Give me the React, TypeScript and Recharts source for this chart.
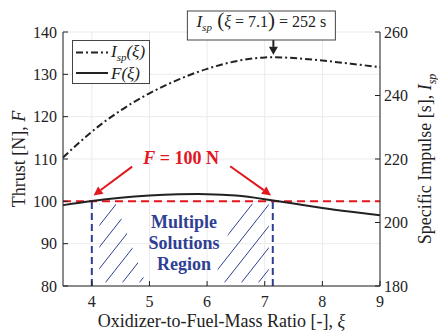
import {
  CartesianGrid,
  Legend,
  Line,
  LineChart,
  ReferenceArea,
  ReferenceDot,
  ReferenceLine,
  XAxis,
  YAxis,
} from 'recharts';

const ratio = [3.5, 4, 4.5, 5, 5.5, 6, 6.5, 7, 7.5, 8, 8.5, 9];
const thrust = [99.1, 100.1, 100.85, 101.35, 101.65, 101.7, 101.35, 100.5, 99.5, 98.45, 97.55, 96.7];
const isp = [220.5, 228.6, 235.3, 240.7, 245.0, 248.4, 250.8, 252.0, 251.8, 251.0, 250.0, 248.9];

const xTicks = [4, 5, 6, 7, 8, 9];
const thrustTicks = [80, 90, 100, 110, 120, 130, 140];
const ispTicks = [180, 200, 220, 240, 260];

const data = ratio.map((x, i) => ({ x, thrust: thrust[i], isp: isp[i] }));

const FONT = "'Liberation Serif', 'DejaVu Serif', serif";
const INK = '#222';
const RED = '#e3161f';
const BLUE = '#2f3f93';

function LeftTick({ x, y, payload }: any) {
  return (
    <g>
      <text x={x} y={y} dy={5.5} textAnchor="end" fontSize={16} fill={INK} style={{ fontFamily: FONT }}>
        {payload.value}
      </text>
      <line x1={x + 6} x2={x + 11} y1={y} y2={y} stroke={INK} />
    </g>
  );
}

function RightTick({ x, y, payload }: any) {
  return (
    <g>
      <text x={x} y={y} dy={5.5} textAnchor="start" fontSize={16} fill={INK} style={{ fontFamily: FONT }}>
        {payload.value}
      </text>
      <line x1={x - 4} x2={x - 9} y1={y} y2={y} stroke={INK} />
    </g>
  );
}

function BottomTick({ x, y, payload }: any) {
  return (
    <g>
      <text x={x} y={y} dy={12} textAnchor="middle" fontSize={16} fill={INK} style={{ fontFamily: FONT }}>
        {payload.value}
      </text>
      <line x1={x} x2={x} y1={y - 9} y2={y - 14} stroke={INK} />
    </g>
  );
}

// line with a filled arrowhead at the (x2, y2) end
function arrow(color: string, w: number, len: number, half: number) {
  return (p: any) => {
    const { x1, y1, x2, y2 } = p;
    const a = Math.atan2(y2 - y1, x2 - x1);
    const bx = x2 - len * Math.cos(a);
    const by = y2 - len * Math.sin(a);
    const nx = -Math.sin(a) * half;
    const ny = Math.cos(a) * half;
    return (
      <g>
        <line x1={x1} y1={y1} x2={bx} y2={by} stroke={color} strokeWidth={w} />
        <polygon points={`${x2},${y2} ${bx + nx},${by + ny} ${bx - nx},${by - ny}`} fill={color} />
      </g>
    );
  };
}

// diagonal hatching clipped to a slanted region of the area rect
function hatch(id: string, side: 'left' | 'right') {
  return (p: any) => {
    const { x, y, width: w, height: h } = p;
    const poly =
      side === 'left'
        ? [[x, y], [x + 0.36 * w, y], [x + w, y + h], [x, y + h]]
        : [[x + 0.42 * w, y], [x + w, y], [x + w, y + h], [x, y + h]];
    const slope = 1.27;
    const step = 17;
    const lines = [];
    for (let k = -8; k <= 8; k++) {
      const bx = x + w / 2 + k * step;
      lines.push(
        <line key={k} x1={bx} y1={y + h} x2={bx + h / slope} y2={y} stroke={BLUE} strokeWidth={1} />,
      );
    }
    return (
      <g>
        <defs>
          <clipPath id={id}>
            <polygon points={poly.map((q) => q.join(',')).join(' ')} />
          </clipPath>
        </defs>
        <g clipPath={`url(#${id})`}>{lines}</g>
      </g>
    );
  };
}

function LegendBox() {
  return (
    <svg width={78} height={44} style={{ display: 'block', fontFamily: FONT }}>
      <rect x={0.5} y={0.5} width={77} height={43} fill="#fff" stroke="#444" />
      <line x1={4} x2={36} y1={12.5} y2={12.5} stroke={INK} strokeWidth={2} strokeDasharray="7 3 2 3" />
      <text x={39} y={17} fontSize={17} fontStyle="italic" fill={INK}>
        I<tspan fontSize={11} dy={4}>sp</tspan>
        <tspan dy={-4}>(ξ)</tspan>
      </text>
      <line x1={4} x2={36} y1={33} y2={33} stroke={INK} strokeWidth={2} />
      <text x={39} y={38.5} fontSize={17} fontStyle="italic" fill={INK}>
        F(ξ)
      </text>
    </svg>
  );
}

export default function App() {
  return (
    <div style={{ position: 'absolute', left: 0, top: 0, fontFamily: FONT }}>
      <LineChart
        width={438}
        height={332}
        data={data}
        margin={{ top: 32, right: 0, bottom: 0, left: 0 }}
        style={{ fontFamily: FONT }}
      >
        <CartesianGrid stroke="#ebebeb" yAxisId="l" />
        <XAxis
          dataKey="x"
          type="number"
          domain={[3.5, 9]}
          ticks={xTicks}
          allowDataOverflow
          height={46}
          tickSize={0}
          tickMargin={9}
          stroke={INK}
          tick={<BottomTick />}
          label={{
            content: ({ viewBox }: any) => (
              <text
                x={(viewBox?.x ?? 63) + (viewBox?.width ?? 317) / 2}
                y={327}
                textAnchor="middle"
                fontSize={18}
                fill={INK}
                style={{ fontFamily: FONT }}
              >
                Oxidizer-to-Fuel-Mass Ratio [-], <tspan fontStyle="italic">ξ</tspan>
              </text>
            ),
          }}
        />
        <YAxis
          yAxisId="l"
          domain={[80, 140]}
          ticks={thrustTicks}
          width={63}
          tickSize={0}
          tickMargin={6}
          stroke={INK}
          tick={<LeftTick />}
          label={{
            content: ({ viewBox }: any) => {
              const cy = (viewBox?.y ?? 32) + (viewBox?.height ?? 254) / 2;
              return (
                <text
                  transform={`translate(25, ${cy}) rotate(-90)`}
                  textAnchor="middle"
                  fontSize={18}
                  fill={INK}
                  style={{ fontFamily: FONT }}
                >
                  Thrust [N],  <tspan fontStyle="italic">F</tspan>
                </text>
              );
            },
          }}
        />
        <YAxis
          yAxisId="r"
          orientation="right"
          domain={[180, 260]}
          ticks={ispTicks}
          width={58}
          tickSize={0}
          tickMargin={4}
          stroke={INK}
          tick={<RightTick />}
          label={{
            content: ({ viewBox }: any) => {
              const cy = (viewBox?.y ?? 32) + (viewBox?.height ?? 254) / 2;
              return (
                <text
                  transform={`translate(431, ${cy}) rotate(-90)`}
                  textAnchor="middle"
                  fontSize={18}
                  fill={INK}
                  style={{ fontFamily: FONT }}
                >
                  Specific Impulse [s],  <tspan fontStyle="italic">I</tspan>
                  <tspan fontStyle="italic" fontSize={12} dy={5}>sp</tspan>
                </text>
              );
            },
          }}
        />

        <ReferenceArea yAxisId="l" x1={4.13} x2={4.93} y1={80.8} y2={99.4} shape={hatch('hatchL', 'left')} />
        <ReferenceArea yAxisId="l" x1={6.12} x2={7.07} y1={80.8} y2={99.4} shape={hatch('hatchR', 'right')} />

        <ReferenceLine yAxisId="l" y={100} stroke={RED} strokeWidth={2} strokeDasharray="8 5" />
        <ReferenceLine
          yAxisId="l"
          segment={[{ x: 4, y: 80 }, { x: 4, y: 100 }]}
          stroke={BLUE}
          strokeWidth={2}
          strokeDasharray="7 4"
        />
        <ReferenceLine
          yAxisId="l"
          segment={[{ x: 7.14, y: 80 }, { x: 7.14, y: 100 }]}
          stroke={BLUE}
          strokeWidth={2}
          strokeDasharray="7 4"
        />

        <Line
          yAxisId="r"
          type="natural"
          dataKey="isp"
          stroke={INK}
          strokeWidth={2}
          strokeDasharray="7 3 2 3"
          dot={false}
          isAnimationActive={false}
        />
        <Line
          yAxisId="l"
          type="natural"
          dataKey="thrust"
          stroke={INK}
          strokeWidth={2}
          dot={false}
          isAnimationActive={false}
        />

        <ReferenceLine
          yAxisId="l"
          segment={[{ x: 4.7, y: 108.2 }, { x: 4.03, y: 101.4 }]}
          shape={arrow(RED, 2, 9, 4.5)}
        />
        <ReferenceLine
          yAxisId="l"
          segment={[{ x: 6.4, y: 108.3 }, { x: 7.11, y: 101.4 }]}
          shape={arrow(RED, 2, 9, 4.5)}
        />
        <ReferenceLine
          yAxisId="r"
          segment={[{ x: 7.15, y: 257.5 }, { x: 7.15, y: 252.8 }]}
          shape={arrow(INK, 2, 8, 4.5)}
        />

        <ReferenceDot
          yAxisId="l"
          x={5.55}
          y={108.8}
          r={0}
          shape={(p: any) => (
            <text x={p.cx} y={p.cy} textAnchor="middle" fontSize={18} fontWeight="bold" fill={RED} style={{ fontFamily: FONT }}>
              <tspan fontStyle="italic">F</tspan> = 100 N
            </text>
          )}
        />
        <ReferenceDot
          yAxisId="l"
          x={5.6}
          y={93.8}
          r={0}
          shape={(p: any) => (
            <text x={p.cx} y={p.cy} textAnchor="middle" fontSize={18} fontWeight="bold" fill={BLUE} style={{ fontFamily: FONT }}>
              <tspan x={p.cx}>Multiple</tspan>
              <tspan x={p.cx} dy={21}>Solutions</tspan>
              <tspan x={p.cx} dy={21}>Region</tspan>
            </text>
          )}
        />
        <ReferenceDot
          yAxisId="r"
          x={7.15}
          y={260}
          r={0}
          shape={(p: any) => (
            <g>
              <rect x={p.cx - 86} y={p.cy - 21} width={148} height={29} fill="#fff" stroke="#444" />
              <text x={p.cx - 12} y={p.cy - 5} textAnchor="middle" fontSize={16} fill={INK} style={{ fontFamily: FONT }}>
                <tspan fontStyle="italic" fontSize={17}>I</tspan>
                <tspan fontStyle="italic" fontSize={11} dy={4}>sp</tspan>
                <tspan fontSize={21} dy={-4}> (</tspan>
                <tspan fontStyle="italic">ξ</tspan>
                <tspan> = 7.1</tspan>
                <tspan fontSize={21}>)</tspan>
                <tspan> = 252 s</tspan>
              </text>
            </g>
          )}
        />

        <Legend
          layout="vertical"
          align="center"
          verticalAlign="middle"
          wrapperStyle={{ position: 'absolute', left: 72, top: 40, width: 78, height: 44 }}
          content={() => <LegendBox />}
        />
      </LineChart>
    </div>
  );
}
